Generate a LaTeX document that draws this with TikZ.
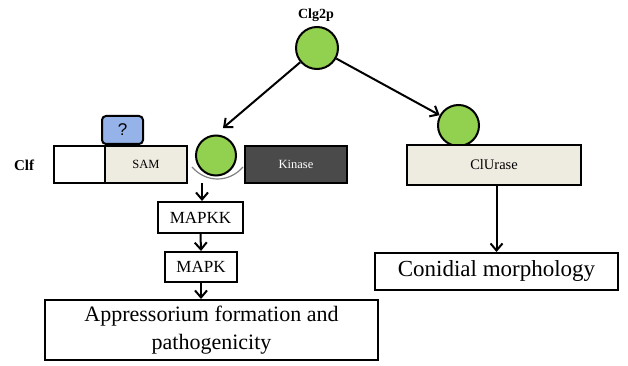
\documentclass[tikz,border=0pt]{standalone}
\usepackage{fontspec}
\setmainfont{Liberation Serif}
\setsansfont{Liberation Sans}
\usetikzlibrary{arrows.meta}
\definecolor{beige}{HTML}{EEECE1}
\definecolor{qblue}{HTML}{95B3E8}
\definecolor{kgray}{HTML}{4A4A4A}
\definecolor{ballgreen}{HTML}{92D050}
\begin{document}
\begin{tikzpicture}[x=1pt,y=-1pt,
  box/.style={draw=black,line width=2pt,inner sep=0pt},
  ball/.style={circle,draw=black,line width=2pt,fill=ballgreen,inner sep=0pt},
  arr/.style={-{Straight Barb[length=7pt,width=12pt,line width=2pt]},line width=2pt},
  lbl/.style={font=\bfseries\fontsize{14}{16}\selectfont}]
\useasboundingbox (0,0) rectangle (628,366);
\node[lbl] (clg2pl) at (316,15) {Clg2p};
\node[ball,minimum size=42pt] (top) at (317,48) {};
\node[lbl,font=\bfseries\fontsize{15}{17}\selectfont] (clf) at (24,165) {Clf};
\node[box,fill=white,minimum width=51pt,minimum height=37pt] (wb) at (79.5,164.5) {};
\node[box,fill=beige,minimum width=82pt,minimum height=37pt,font=\fontsize{12.5}{14}\selectfont] (sam) at (146,164.5) {SAM};
\node[box,fill=qblue,rounded corners=4pt,minimum width=41pt,minimum height=28pt,font=\sffamily\fontsize{17}{19}\selectfont] (q) at (122.5,130) {?};
\node[box,fill=kgray,text=white,minimum width=102pt,minimum height=37pt,font=\fontsize{12.5}{14}\selectfont] (kin) at (296,164.5) {Kinase};
\node[ball,minimum size=40pt] (mid) at (216,155.5) {};
\draw[gray,line width=1.2pt] (192,167) .. controls (206,183) and (229,183) .. (243,167);
\draw[arr] (top) -- (223,128);
\node[ball,minimum size=41pt] (rb) at (458.5,125.5) {};
\draw[arr] (top) -- (rb);
\node[box,fill=beige,minimum width=174pt,minimum height=40pt,font=\fontsize{14.5}{16}\selectfont] (clu) at (494,165) {ClUrase};
\node[box,fill=white,minimum width=243pt,minimum height=37pt,font=\fontsize{23}{26}\selectfont] (con) at (496.5,271.5) {Conidial morphology};
\draw[arr] (clu.south -| con.north) -- (con.north);
\node[box,fill=white,minimum width=85pt,minimum height=31pt,font=\fontsize{17}{19}\selectfont] (mapkk) at (200.5,217.5) {MAPKK};
\node[box,fill=white,minimum width=72pt,minimum height=30pt,font=\fontsize{17}{19}\selectfont] (mapk) at (201,267) {MAPK};
\node[box,fill=white,minimum width=333pt,minimum height=60pt,align=center,font=\fontsize{22}{28}\selectfont] (app) at (211.5,330) {Appressorium formation and\\pathogenicity};
\coordinate (src) at (202,183);
\draw[arr] (src) -- (mapkk.north -| src);
\draw[arr] (mapkk.south) -- (mapk.north);
\draw[arr] (mapk.south) -- (app.north -| mapk.south);
\end{tikzpicture}
\end{document}
